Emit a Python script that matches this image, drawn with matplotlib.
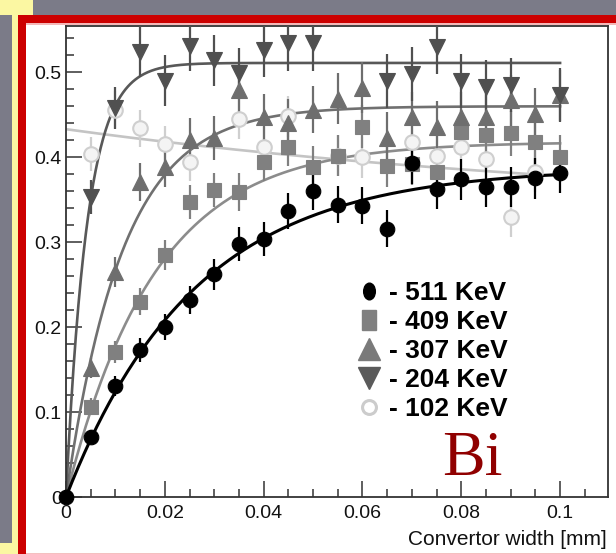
import numpy as np
import matplotlib
matplotlib.use("Agg")
import matplotlib.pyplot as plt
from matplotlib.patches import Rectangle
from matplotlib.lines import Line2D
from matplotlib.markers import MarkerStyle
from matplotlib.transforms import Affine2D
from matplotlib.ticker import MultipleLocator

plt.rcParams['font.family'] = ['Liberation Sans', 'DejaVu Sans']

W, H = 616, 554

# convertor width [mm]
width = [0.0, 0.005, 0.01, 0.015, 0.02, 0.025, 0.03, 0.035, 0.04, 0.045, 0.05,
         0.055, 0.06, 0.065, 0.07, 0.075, 0.08, 0.085, 0.09, 0.095, 0.1]
nan = np.nan

eff_511 = [0, 0.071, 0.131, 0.173, 0.200, 0.232, 0.262, 0.298, 0.304, 0.337, 0.360,
           0.344, 0.343, 0.316, 0.393, 0.363, 0.374, 0.365, 0.365, 0.375, 0.382]
err_511 = [0, 0.008, 0.012, 0.014, 0.015, 0.016, 0.018, 0.02, 0.02, 0.021, 0.022,
           0.022, 0.022, 0.022, 0.024, 0.024, 0.024, 0.024, 0.024, 0.024, 0.024]

eff_409 = [nan, 0.106, 0.171, 0.230, 0.285, 0.347, 0.361, 0.359, 0.394, 0.412, 0.389,
           0.402, 0.436, 0.390, 0.392, 0.383, 0.430, 0.426, 0.428, 0.418, 0.400]
err_409 = [0, 0.01, 0.013, 0.016, 0.018, 0.02, 0.02, 0.022, 0.022, 0.022, 0.024,
           0.024, 0.025, 0.025, 0.025, 0.025, 0.026, 0.026, 0.026, 0.026, 0.026]

eff_307 = [nan, 0.152, 0.265, 0.371, 0.389, 0.420, 0.423, 0.479, 0.447, 0.440, 0.456,
           0.469, 0.482, 0.423, 0.447, 0.436, 0.447, 0.447, 0.467, 0.451, 0.473]
err_307 = [0, 0.012, 0.018, 0.022, 0.024, 0.026, 0.026, 0.028, 0.028, 0.028, 0.028,
           0.03, 0.03, 0.03, 0.03, 0.03, 0.03, 0.03, 0.03, 0.03, 0.03]

eff_204 = [nan, 0.353, 0.458, 0.524, 0.490, 0.531, 0.514, 0.499, 0.526, 0.534, 0.534,
           nan, nan, 0.490, 0.498, 0.530, 0.490, 0.483, 0.485, nan, 0.473]
err_204 = [0, 0.02, 0.025, 0.03, 0.03, 0.03, 0.03, 0.03, 0.032, 0.032, 0.032,
           0.032, 0.032, 0.032, 0.032, 0.032, 0.032, 0.032, 0.032, 0.032, 0.032]

eff_102 = [nan, 0.404, 0.456, 0.434, 0.415, 0.394, nan, 0.445, 0.412, 0.448, nan,
           0.402, 0.400, nan, 0.418, 0.402, 0.412, 0.398, 0.330, 0.383, nan]
err_102 = [0, 0.02, 0.022, 0.022, 0.022, 0.022, 0.022, 0.024, 0.024, 0.024, 0.024,
           0.024, 0.024, 0.024, 0.024, 0.024, 0.024, 0.024, 0.024, 0.024, 0.024]

# fit curves y = plateau - drop*exp(-x/tau)
fit_plateau = {'511': 0.388, '409': 0.418, '307': 0.46, '204': 0.511, '102': 0.333}
fit_drop = {'511': 0.388, '409': 0.418, '307': 0.46, '204': 0.511, '102': -0.10}
fit_tau = {'511': 0.026, '409': 0.018, '307': 0.0115, '204': 0.0043, '102': 0.125}

legend_text = ['- 511 KeV', '- 409 KeV', '- 307 KeV', '- 204 KeV', '- 102 KeV']
xticks = [0, 0.02, 0.04, 0.06, 0.08, 0.1]
xticklabels = ['0', '0.02', '0.04', '0.06', '0.08', '0.1']
yticks = [0, 0.1, 0.2, 0.3, 0.4, 0.5]
yticklabels = ['0', '0.1', '0.2', '0.3', '0.4', '0.5']

series = {'511': (eff_511, err_511), '409': (eff_409, err_409), '307': (eff_307, err_307),
          '204': (eff_204, err_204), '102': (eff_102, err_102)}
style = {
    '511': dict(marker='o', ms=10.5, mfc='black', mec='black', ecol='black', lcol='black', lw=2.2),
    '409': dict(marker='s', ms=9.5, mfc='#808080', mec='#808080', ecol='#808080', lcol='#8c8c8c', lw=1.9),
    '307': dict(marker='^', ms=11.5, mfc='#6e6e6e', mec='#6e6e6e', ecol='#6e6e6e', lcol='#707070', lw=1.9),
    '204': dict(marker='v', ms=11.5, mfc='#505050', mec='#505050', ecol='#505050', lcol='#585858', lw=1.9),
    '102': dict(marker='o', ms=10.5, mfc='#f4f4f4', mec='#cfcfcf', ecol='#cfcfcf', lcol='#c4c4c4', lw=1.9),
}


def fx(px):
    return px / W


def fy(py):
    return 1 - py / H


fig = plt.figure(figsize=(W / 100, H / 100), dpi=100, facecolor='white')

# slide frame around the plot
def box(x0, y0, x1, y1, c):
    fig.patches.append(Rectangle((fx(x0), fy(y1)), fx(x1) - fx(x0), fy(y0) - fy(y1),
                                 transform=fig.transFigure, color=c, lw=0, zorder=0))

box(0, 0, 616, 15, '#7b7b88')
box(0, 0, 33, 15, '#fbf7a2')
box(0, 15, 12, 543, '#7b7b88')
box(12, 15, 18, 554, '#fbf7a2')
box(0, 543, 12, 554, '#fbf7a2')
box(18, 15, 616, 23, '#cc0000')
box(18, 15, 26, 554, '#cc0000')
box(26, 23, 616, 24.5, '#f4b8b8')
box(26, 552.5, 616, 554, '#f4c0c0')

ax = fig.add_axes([fx(66), fy(497), fx(608) - fx(66), fy(26) - fy(497)])
ax.set_xlim(0, 0.1097)
ax.set_ylim(0, 0.5545)

xx = np.linspace(0, 0.1, 400)
for k in ['102', '409', '307', '204', '511']:
    s = style[k]
    y, e = series[k]
    fit = fit_plateau[k] - fit_drop[k] * np.exp(-xx / fit_tau[k])
    ax.plot(xx, fit, color=s['lcol'], lw=s['lw'], zorder=2)
    line, caps, bars = ax.errorbar(width, y, yerr=e, fmt=s['marker'], ms=s['ms'],
                                   mfc=s['mfc'], mec=s['mec'], mew=1.5 if k == '102' else 0.8,
                                   ecolor=s['ecol'], elinewidth=1.6, capsize=0, zorder=3)
    line.set_clip_on(False)
    line.set_zorder(4)

for sp in ax.spines.values():
    sp.set_color('#333333')
    sp.set_linewidth(1.3)

ax.set_xticks(xticks)
ax.set_xticklabels(xticklabels)
ax.set_yticks(yticks)
ax.set_yticklabels(yticklabels)
ax.xaxis.set_minor_locator(MultipleLocator(0.005))
ax.yaxis.set_minor_locator(MultipleLocator(0.02))
ax.tick_params(which='both', direction='in', color='#333333', width=1.1,
               top=False, right=False, labelsize=14, labelcolor='#111111')
ax.tick_params(which='major', length=11.5)
ax.tick_params(which='minor', length=5.8)
ax.tick_params(axis='x', pad=6)
ax.tick_params(axis='y', pad=3)

fig.text(fx(607), fy(545), 'Convertor width [mm]', ha='right', va='baseline',
         fontsize=15, color='#111111')

# legend
handles = [
    Line2D([], [], ls='none', marker=MarkerStyle('o', transform=Affine2D().scale(0.7, 1.0)),
           ms=12, mfc='black', mec='black'),
    Line2D([], [], ls='none', marker=MarkerStyle('s', transform=Affine2D().scale(0.7, 1.0)),
           ms=14, mfc='#808080', mec='#808080'),
    Line2D([], [], ls='none', marker='^', ms=15.5, mfc='#7a7a7a', mec='#7a7a7a'),
    Line2D([], [], ls='none', marker='v', ms=15.5, mfc='#5a5a5a', mec='#5a5a5a'),
    Line2D([], [], ls='none', marker='o', ms=10, mfc='white', mec='#cccccc', mew=2.2),
]
leg = ax.legend(handles, legend_text, loc='upper left',
                bbox_to_anchor=((356 - 66) / 542, (497 - 281) / 471),
                frameon=False, borderpad=0, borderaxespad=0, handlelength=0.95,
                handletextpad=0.3, labelspacing=0.19,
                prop={'family': ['Liberation Sans', 'DejaVu Sans'], 'weight': 'bold', 'size': 19})
leg.set_zorder(5)

ax.text((442 - 66) / 542, (497 - 475) / 471, 'Bi', transform=ax.transAxes,
        fontsize=46, color='#900000', family=['Liberation Serif', 'DejaVu Serif'],
        ha='left', va='baseline', zorder=5)

fig.savefig('out.png', dpi=100, facecolor=fig.get_facecolor())
